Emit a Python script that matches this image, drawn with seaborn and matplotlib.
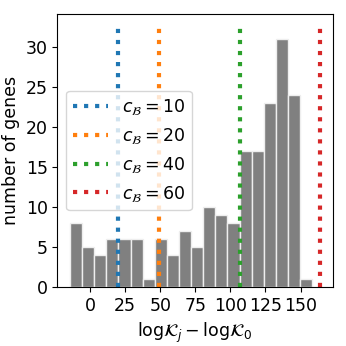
import numpy as np
import pandas as pd
import matplotlib
matplotlib.use("Agg")
import matplotlib.pyplot as plt
import seaborn as sns

# histogram of log K_j - log K_0
bin_start = -14.3
bin_width = 8.63
counts = [8, 5, 4, 6, 6, 6, 1, 6, 4, 7, 5, 10, 9, 8, 17, 17, 23, 31, 24, 1]

# thresholds for each c_B
c_values = [10, 20, 40, 60]
c_positions = [20.2, 49.3, 106.6, 164.1]
line_top = 32.5

edges = bin_start + bin_width * np.arange(len(counts) + 1)
centers = (edges[:-1] + edges[1:]) / 2
df = pd.DataFrame({'logK': centers, 'count': counts})

plt.rcParams['font.size'] = 12.5
fig, ax = plt.subplots(figsize=(3.46, 3.46), dpi=100)
sns.histplot(data=df, x='logK', weights='count', bins=list(edges), color='gray',
             alpha=1, edgecolor='#eeeeee', linewidth=1, ax=ax)

palette = sns.color_palette('tab10')
for i, (c, pos) in enumerate(zip(c_values, c_positions)):
    ax.vlines(pos, 0, line_top, colors=[palette[i]], linestyles=':', linewidth=3,
              label=r'$c_\mathcal{B} = %d$' % c)

ax.set_xticks([0, 25, 50, 75, 100, 125, 150])
ax.set_xlabel(r'$\mathrm{log}\mathcal{K}_j - \mathrm{log}\mathcal{K}_0$')
ax.set_ylabel('number of genes')
ax.legend(loc='center left')

plt.subplots_adjust(left=0.166, right=0.962, top=0.960, bottom=0.170)
plt.savefig('out.png')
